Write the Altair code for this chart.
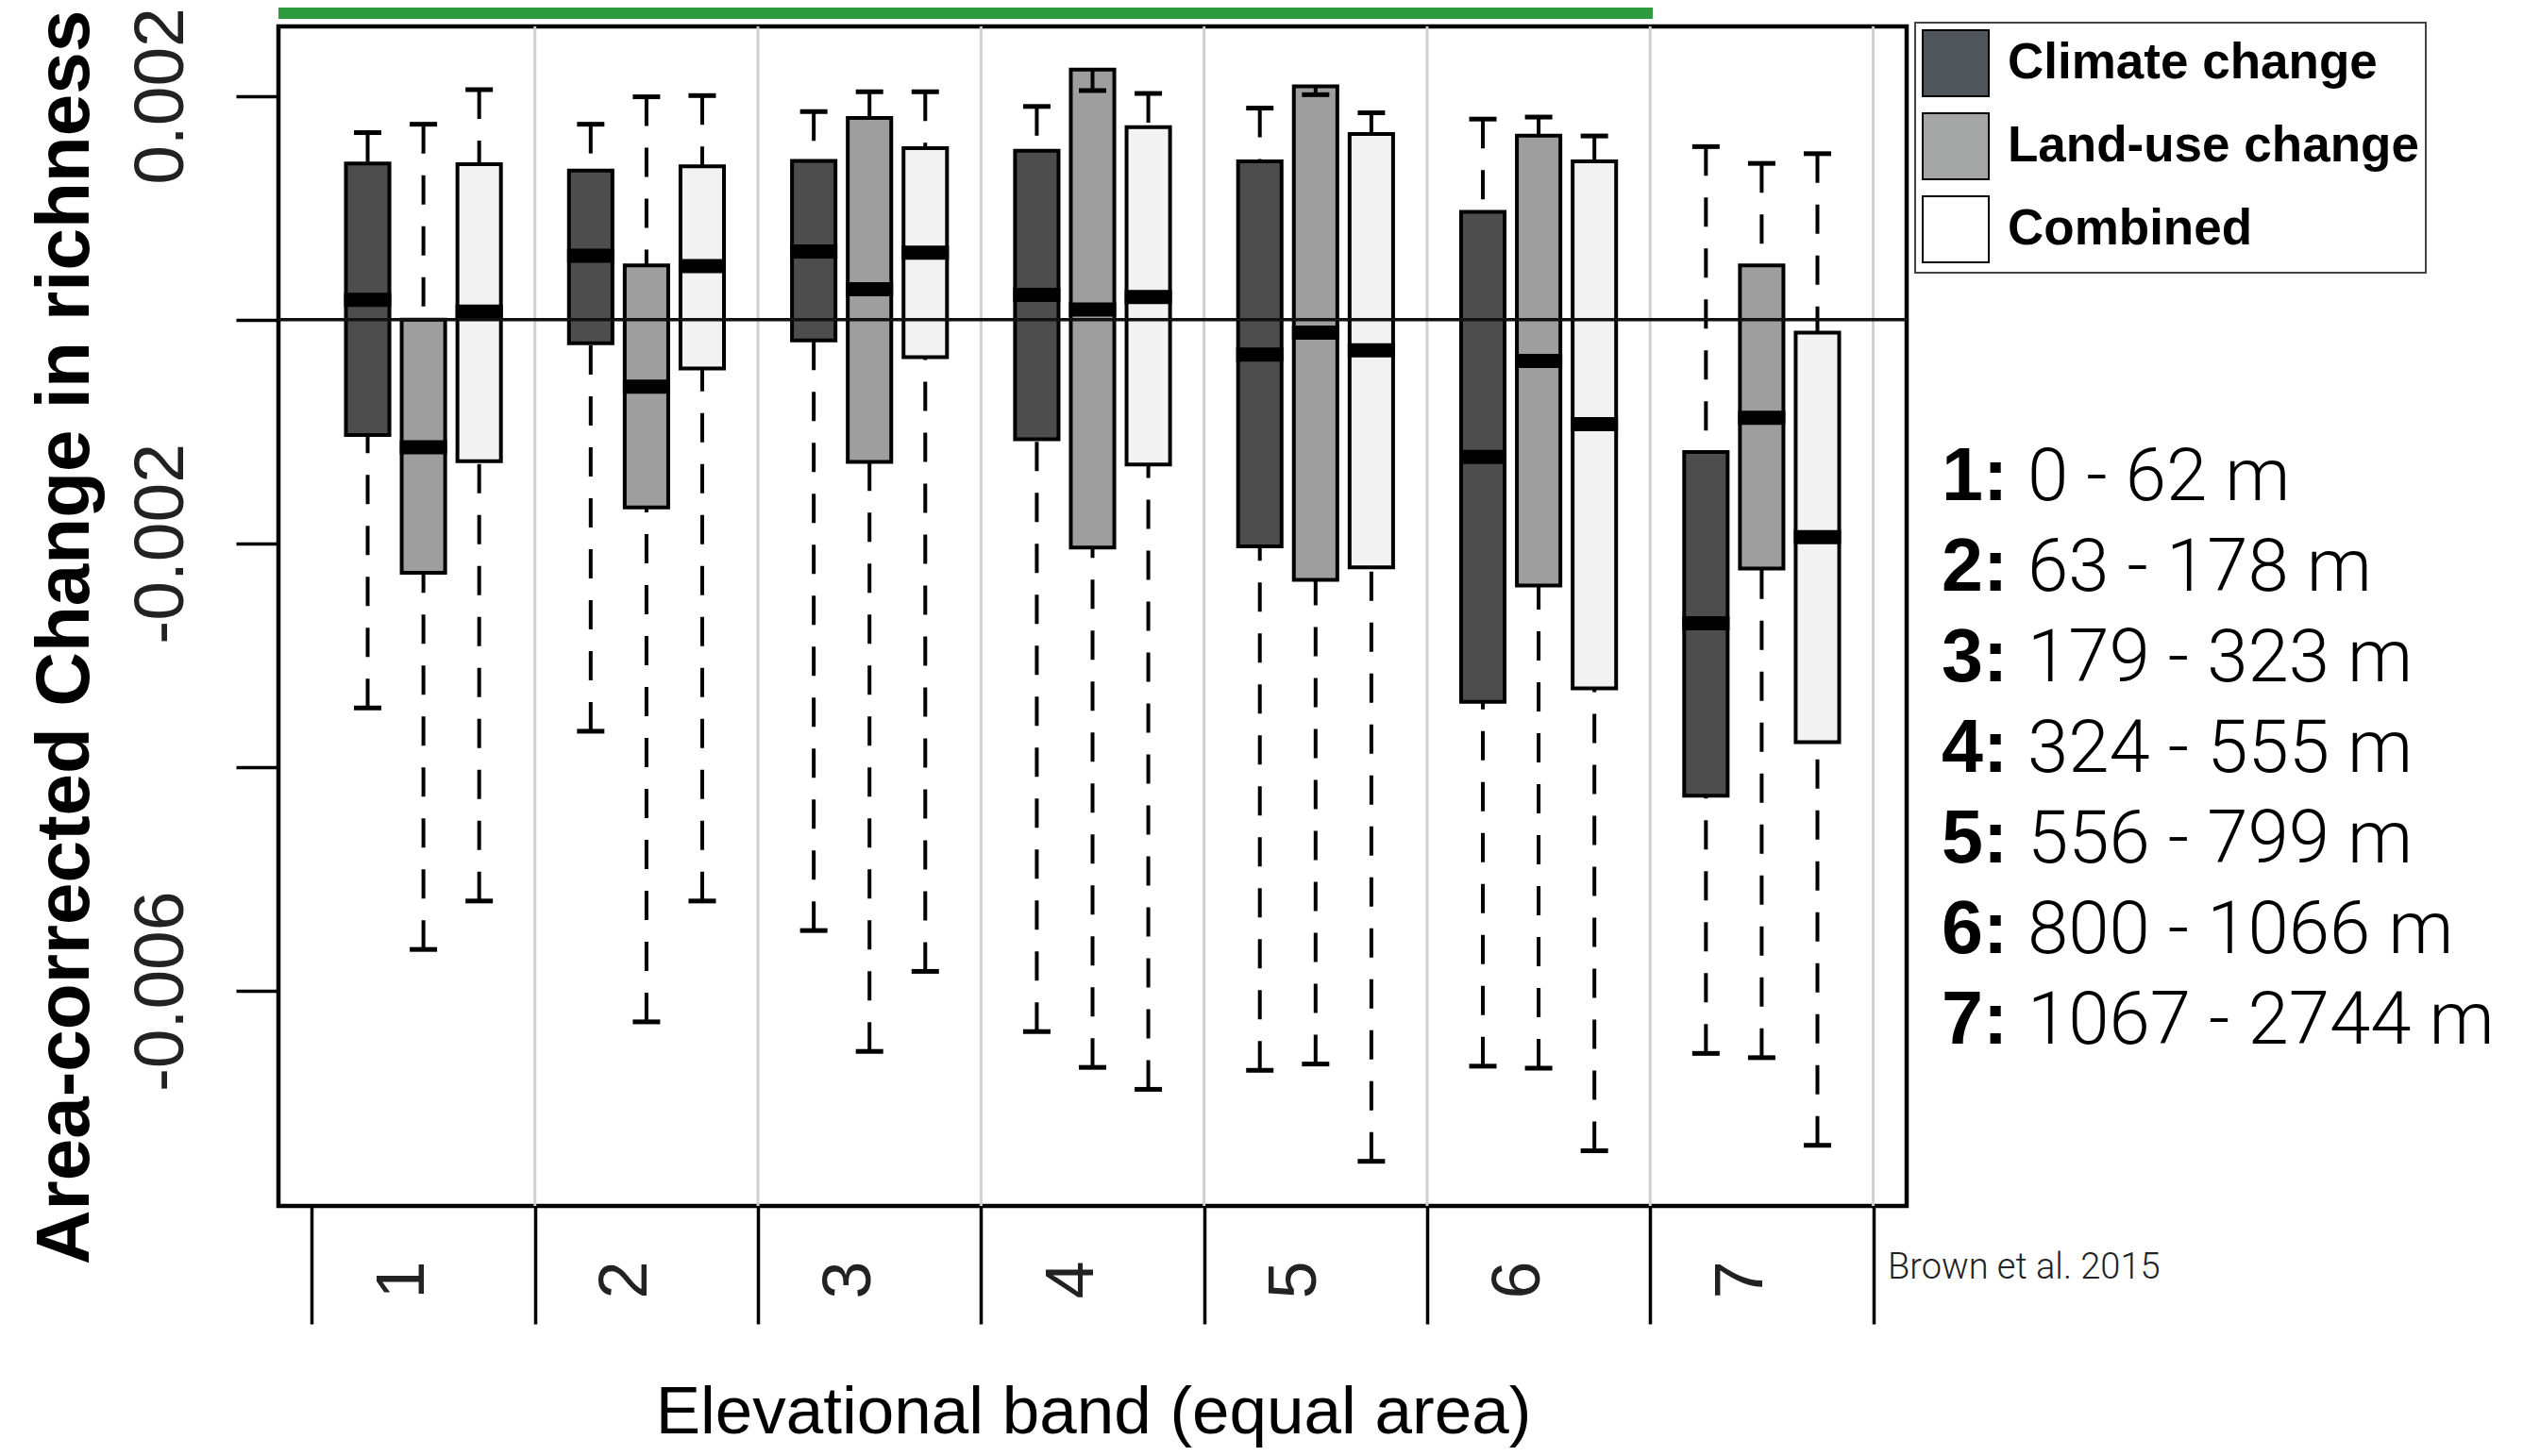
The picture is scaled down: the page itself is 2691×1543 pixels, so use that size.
import altair as alt
import pandas as pd

bands = ["1", "2", "3", "4", "5", "6", "7"]
treatments = ["Climate change", "Land-use change", "Combined"]

# box statistics
clim_hi = [0.001671, 0.001746, 0.001859, 0.001905, 0.001890, 0.001792, 0.001546]
clim_q3 = [0.001396, 0.001332, 0.001419, 0.001509, 0.001415, 0.000963, -0.001182]
clim_med = [0.000176, 0.000572, 0.000610, 0.000222, -0.000313, -0.001228, -0.002714]
clim_q1 = [-0.001032, -0.000211, -0.000185, -0.001069, -0.002025, -0.003415, -0.004254]
clim_lo = [-0.003470, -0.003678, -0.005459, -0.006362, -0.006708, -0.006671, -0.006557]

land_hi = [0.001746, 0.001991, 0.002036, 0.002047, 0.002010, 0.001810, 0.001396]
land_q3 = [0.000000, 0.000485, 0.001803, 0.002235, 0.002085, 0.001644, 0.000485]
land_med = [-0.001141, -0.000599, 0.000271, 0.000090, -0.000117, -0.000369, -0.000878]
land_q1 = [-0.002262, -0.001679, -0.001272, -0.002037, -0.002326, -0.002375, -0.002225]
land_lo = [-0.005628, -0.006275, -0.006539, -0.006682, -0.006652, -0.006689, -0.006595]

comb_hi = [0.002055, 0.002002, 0.002036, 0.002021, 0.001848, 0.001641, 0.001483]
comb_q3 = [0.001389, 0.001370, 0.001532, 0.001720, 0.001659, 0.001415, -0.000117]
comb_med = [0.000071, 0.000478, 0.000598, 0.000203, -0.000275, -0.000934, -0.001943]
comb_q1 = [-0.001265, -0.000437, -0.000335, -0.001295, -0.002213, -0.003294, -0.003776]
comb_lo = [-0.005195, -0.005195, -0.005824, -0.006878, -0.007521, -0.007427, -0.007378]

band_nums = ["1:", "2:", "3:", "4:", "5:", "6:", "7:"]
band_ranges = ["0 - 62 m", "63 - 178 m", "179 - 323 m", "324 - 555 m",
               "556 - 799 m", "800 - 1066 m", "1067 - 2744 m"]

y_ticks = [0.002, 0.0, -0.002, -0.004, -0.006]
y_domain = [-0.00792, 0.00262]

box_colors = ["#4d4d4d", "#9e9e9e", "#f2f2f2"]
legend_colors = ["#50545b", "#a4a7a5", "#ffffff"]

series = {
    "Climate change": (clim_hi, clim_q3, clim_med, clim_q1, clim_lo),
    "Land-use change": (land_hi, land_q3, land_med, land_q1, land_lo),
    "Combined": (comb_hi, comb_q3, comb_med, comb_q1, comb_lo),
}
rows = []
for t in treatments:
    hi, q3, med, q1, lo = series[t]
    for i, b in enumerate(bands):
        rows.append({"band": b, "treat": t, "hi": hi[i], "q3": q3[i],
                     "med": med[i], "q1": q1[i], "lo": lo[i]})
df = pd.DataFrame(rows)
band_df = pd.DataFrame({"band": bands})
text_df = pd.DataFrame({"row": list(range(1, 8)), "num": band_nums, "rng": band_ranges})

W, H = 1725, 1250
FONT = "Liberation Sans, Arial, Helvetica"
LIGHT = "Roboto, Lato, Liberation Sans"
X_TITLE = "Elevational band (equal area)"
Y_TITLE = "Area-corrected Change in richness"

xscale = alt.Scale(domain=bands, paddingInner=0, paddingOuter=0.15)
xoff = alt.XOffset("treat:N", scale=alt.Scale(domain=treatments, paddingInner=0.22, paddingOuter=0.61))
yscale = alt.Scale(domain=y_domain, nice=False, zero=False)

xaxis = alt.Axis(
    tickBand="extent", tickSize=125, tickWidth=3.5, tickColor="black",
    domain=False, grid=False, labelLimit=1000,
    labelAngle=270, labelAlign="center", labelBaseline="alphabetic", labelPadding=-47,
    labelFontSize=72, labelColor="#222222", labelFont=FONT,
    titleFontSize=71, titleFontWeight="normal", titleColor="black", titleFont=FONT,
    titleX=863, titleY=240, titleAlign="center", titleBaseline="alphabetic", titleLimit=3000,
)
yaxis = alt.Axis(
    values=y_ticks, tickSize=45, tickWidth=3.5, tickColor="black",
    domain=False, grid=False, labelOverlap=False, labelLimit=1000,
    labelAngle=270, labelAlign="center", labelBaseline="alphabetic", labelPadding=57,
    labelFontSize=75, labelColor="#222222", labelFont=FONT,
    labelExpr="datum.value == 0 || datum.value == -0.004 ? '' : datum.value + ''",
    titleFontSize=80, titleFontWeight="bold", titleColor="black", titleFont=FONT,
    titleAngle=270, titleAlign="center", titleBaseline="alphabetic", titleLimit=3000,
    titleX=-202, titleY=647,
)


def X(**kw):
    return alt.X("band:N", scale=xscale, axis=xaxis, title=X_TITLE, **kw)


def Y(field):
    return alt.Y(field, scale=yscale, axis=yaxis, title=Y_TITLE)


base = alt.Chart(df)

grid = alt.Chart(band_df).mark_rule(color="#cfcfcf", strokeWidth=3).encode(
    x=X(bandPosition=1)
)

boxes = base.mark_bar(stroke="black", strokeWidth=4).encode(
    x=X(), xOffset=xoff, y=Y("q3:Q"), y2="q1:Q",
    fill=alt.Fill("treat:N", scale=alt.Scale(domain=treatments, range=box_colors), legend=None),
)

medians = base.mark_tick(color="black", thickness=15, size=50, opacity=1).encode(
    x=X(), xOffset=xoff, y=Y("med:Q")
)

wh_up = base.mark_rule(color="black", strokeWidth=4, strokeDash=[31, 23]).encode(
    x=X(), xOffset=xoff, y=Y("hi:Q"), y2="q3:Q"
)
wh_lo = base.mark_rule(color="black", strokeWidth=4, strokeDash=[31, 23]).encode(
    x=X(), xOffset=xoff, y=Y("lo:Q"), y2="q1:Q"
)
cap_up = base.mark_tick(color="black", thickness=5, size=29, opacity=1).encode(
    x=X(), xOffset=xoff, y=Y("hi:Q")
)
cap_lo = base.mark_tick(color="black", thickness=5, size=29, opacity=1).encode(
    x=X(), xOffset=xoff, y=Y("lo:Q")
)

zero = alt.Chart(band_df.head(1)).mark_rule(color="#111111", strokeWidth=3.5).encode(
    y=alt.Y(datum=0, scale=yscale, axis=yaxis, title=Y_TITLE)
)

legend_layer = base.transform_filter("false").mark_square(stroke="black", strokeWidth=2).encode(
    fill=alt.Fill(
        "treat:N",
        scale=alt.Scale(domain=treatments, range=legend_colors),
        legend=alt.Legend(
            title=None, orient="none", legendX=1734, legendY=-4,
            symbolType="square", symbolSize=4900, symbolStrokeColor="black",
            symbolStrokeWidth=2, symbolOpacity=1,
            labelFontSize=53, labelFontWeight="bold", labelFont=FONT, labelColor="black",
            labelLimit=2000, labelOffset=19, rowPadding=10, padding=7,
            strokeColor="#444444",
        ),
    )
)

main = alt.layer(grid, boxes, medians, wh_up, wh_lo, cap_up, cap_lo, zero, legend_layer).resolve_scale(
    fill="independent"
)

green = alt.Chart(band_df.head(1)).mark_rect(color="#2e9b41").encode(
    x=alt.value(0), x2=alt.value(1456), y=alt.value(-28), y2=alt.value(-8)
)

ty = alt.Y("row:O", scale=alt.Scale(type="point", domain=list(range(1, 8)), range=[502, 1078], padding=0), axis=None)
num_text = alt.Chart(text_df).mark_text(
    align="left", baseline="alphabetic", font=FONT, fontWeight="bold", fontSize=79, color="black"
).encode(x=alt.value(1762), y=ty, text="num:N")
rng_text = alt.Chart(text_df).mark_text(
    align="left", baseline="alphabetic", font=LIGHT, fontWeight=300, fontSize=78, color="black"
).encode(x=alt.value(1853), y=ty, text="rng:N")

credit = alt.Chart(band_df.head(1)).mark_text(
    align="left", baseline="alphabetic", font=LIGHT, fontWeight=300, fontSize=38, color="#222222",
    text="Brown et al. 2015",
).encode(x=alt.value(1705), y=alt.value(1327))

chart = alt.layer(main, green, num_text, rng_text, credit).resolve_scale(
    y="independent"
).properties(
    width=W, height=H,
    autosize=alt.AutoSizeParams(type="none"),
    padding={"left": 287, "top": 20, "right": 663, "bottom": 257},
).configure(
    font=FONT
).configure_view(
    stroke="black", strokeWidth=4.5
).configure_legend(
    strokeWidth=2
)

chart.save("out.html", embed_options={"renderer": "svg", "actions": False})
